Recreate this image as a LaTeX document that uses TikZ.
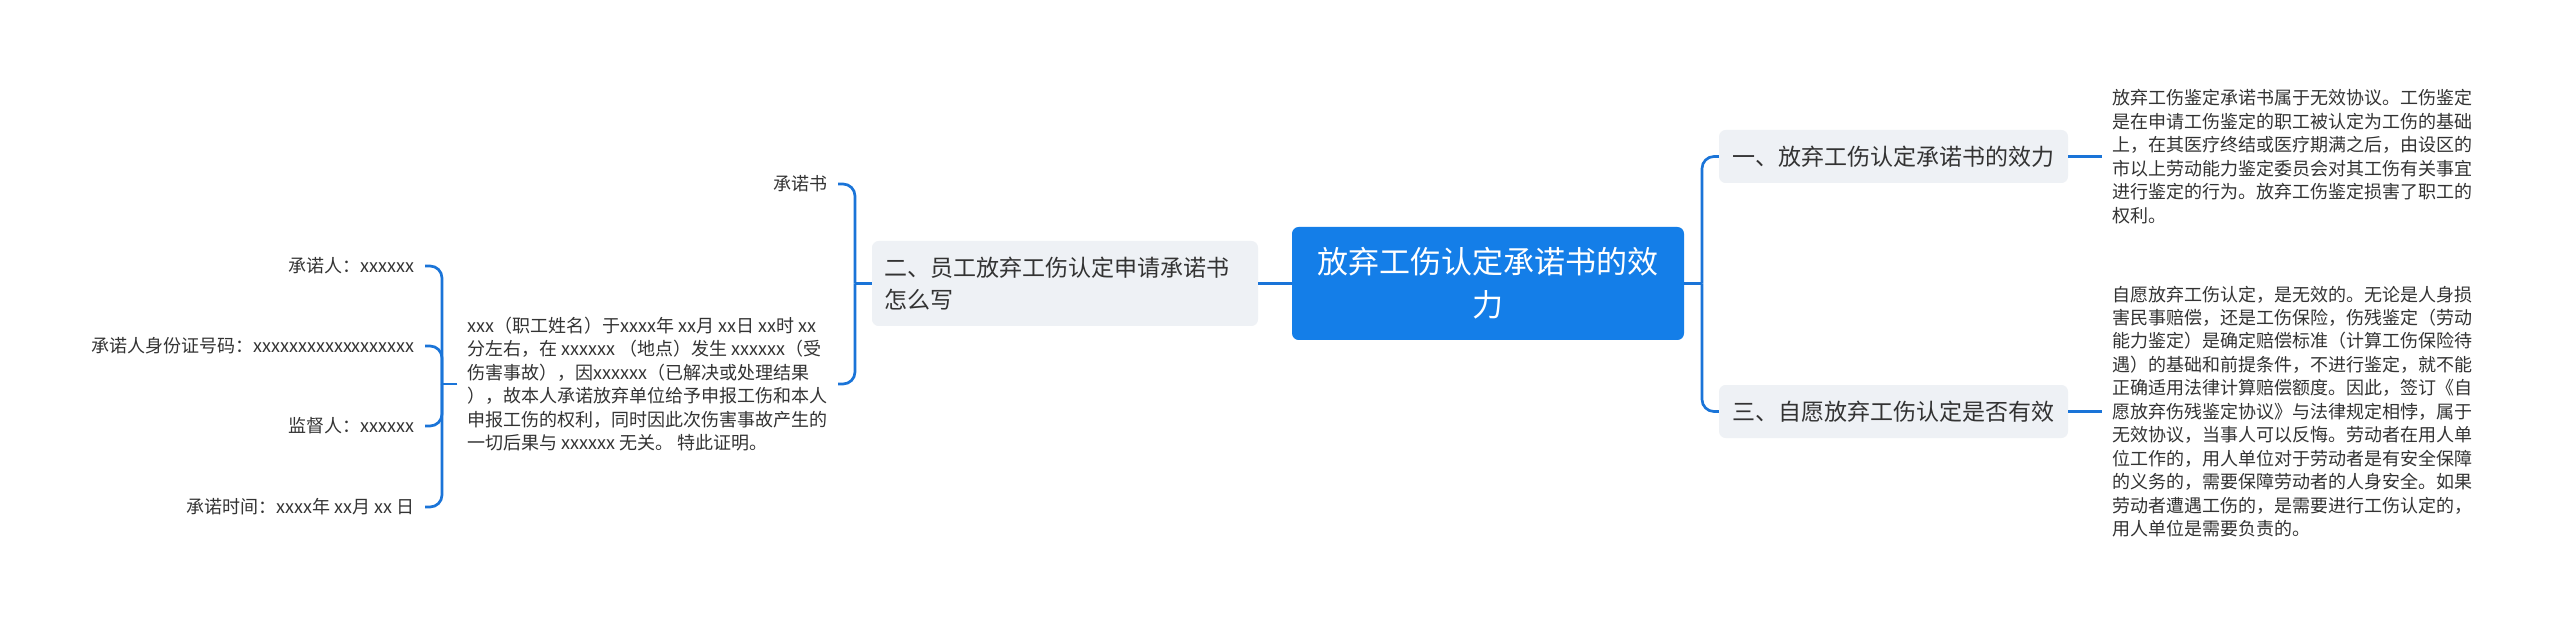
\documentclass[tikz,border=0pt]{standalone}
\usepackage{fontspec}
\setmainfont{Noto Sans CJK SC}
\definecolor{rootblue}{HTML}{147EE8}
\definecolor{lineblue}{HTML}{1A74D8}
\definecolor{topicgray}{HTML}{EEF1F5}
\definecolor{textdark}{HTML}{333333}
\tikzset{
  conn/.style={draw=lineblue, line width=2pt, rounded corners=9pt},
  rootbox/.style={fill=rootblue, rounded corners=5pt, text=white, align=center,
    minimum width=294pt, minimum height=84.75pt, inner sep=0pt,
    font=\fontsize{23.25pt}{32.25pt}\selectfont},
  topicbox/.style={fill=topicgray, rounded corners=5pt, text=textdark,
    minimum width=261.75pt, minimum height=39.75pt, inner sep=0pt,
    font=\fontsize{17.25pt}{24pt}\selectfont},
  topicwide/.style={fill=topicgray, rounded corners=5pt, text=textdark,
    text width=271.5pt, align=left, inner xsep=9pt, inner ysep=0pt,
    minimum height=63.75pt, font=\fontsize{17.25pt}{24pt}\selectfont},
  leaftext/.style={text=textdark, inner xsep=7.5pt, inner ysep=0pt,
    font=\fontsize{13.5pt}{17.6pt}\selectfont},
}
\begin{document}
\begin{tikzpicture}[x=0.75pt,y=-0.75pt]
\useasboundingbox (0,0) rectangle (2560,627);
\fill[white] (0,0) rectangle (2560,627);

% root
\node[rootbox] (root) at (1488,283.5) {放弃工伤认定承诺书的效\\力};

% right topics
\node[topicbox] (n1) at (1893.5,156.5) {一、放弃工伤认定承诺书的效力};
\node[topicbox] (n3) at (1893.5,411.5) {三、自愿放弃工伤认定是否有效};

% right leaves
\node[leaftext, anchor=west, align=left] (leafa) at (2102,156.5)
{放弃工伤鉴定承诺书属于无效协议。工伤鉴定\\
是在申请工伤鉴定的职工被认定为工伤的基础\\
上，在其医疗终结或医疗期满之后，由设区的\\
市以上劳动能力鉴定委员会对其工伤有关事宜\\
进行鉴定的行为。放弃工伤鉴定损害了职工的\\
权利。};

\node[leaftext, anchor=west, align=left] (leafc) at (2102,411.5)
{自愿放弃工伤认定，是无效的。无论是人身损\\
害民事赔偿，还是工伤保险，伤残鉴定（劳动\\
能力鉴定）是确定赔偿标准（计算工伤保险待\\
遇）的基础和前提条件，不进行鉴定，就不能\\
正确适用法律计算赔偿额度。因此，签订《自\\
愿放弃伤残鉴定协议》与法律规定相悖，属于\\
无效协议，当事人可以反悔。劳动者在用人单\\
位工作的，用人单位对于劳动者是有安全保障\\
的义务的，需要保障劳动者的人身安全。如果\\
劳动者遭遇工伤的，是需要进行工伤认定的，\\
用人单位是需要负责的。};

% left topic
\node[topicwide] (n2) at (1065,283.5) {二、员工放弃工伤认定申请承诺书\\怎么写};

% left children
\node[leaftext, anchor=east] (c1) at (838,184) {承诺书};
\node[leaftext, anchor=east, align=left] (c2) at (838,384)
{xxx（职工姓名）于xxxx年 xx月 xx日 xx时 xx\\
分左右，在 xxxxxx （地点）发生 xxxxxx（受\\
伤害事故），因xxxxxx（已解决或处理结果\\
），故本人承诺放弃单位给予申报工伤和本人\\
申报工伤的权利，同时因此次伤害事故产生的\\
一切后果与 xxxxxx 无关。 特此证明。};

\node[leaftext, anchor=east] (l1) at (425,266) {承诺人：xxxxxx};
\node[leaftext, anchor=east] (l2) at (425,346) {承诺人身份证号码：xxxxxxxxxxxxxxxxxx};
\node[leaftext, anchor=east] (l3) at (425,426) {监督人：xxxxxx};
\node[leaftext, anchor=east] (l4) at (425,507) {承诺时间：xxxx年 xx月 xx 日};

% junctions
\coordinate (jR) at (1702,283.5);
\coordinate (jL) at (855,283.5);
\coordinate (jLL) at (442,384);

% connectors
\draw[conn] (root.east) -- (jR);
\draw[conn] (jR) |- (n1.west);
\draw[conn] (jR) |- (n3.west);
\draw[conn] (n1.east) -- (leafa.west);
\draw[conn] (n3.east) -- (leafc.west);
\draw[conn] (root.west) -- (n2.east);
\draw[conn] (n2.west) -- (jL);
\draw[conn] (jL) |- (c1.east);
\draw[conn] (jL) |- (c2.east);
\draw[conn] (c2.west) -- (jLL);
\draw[conn] (jLL) |- (l1.east);
\draw[conn] (jLL) |- (l2.east);
\draw[conn] (jLL) |- (l3.east);
\draw[conn] (jLL) |- (l4.east);
\end{tikzpicture}
\end{document}
